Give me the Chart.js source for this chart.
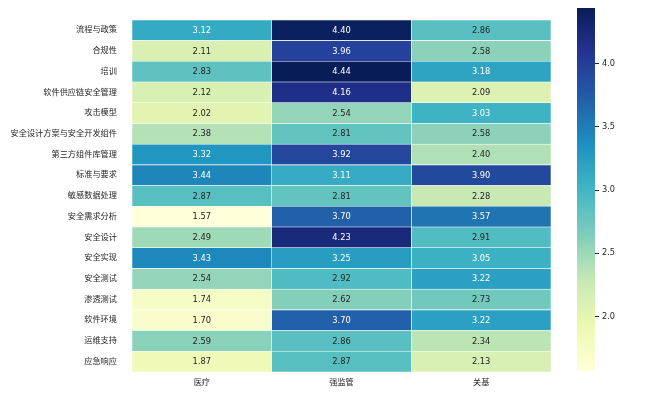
<!DOCTYPE html>
<html>
<head>
<meta charset="utf-8">
<script src="https://cdn.jsdelivr.net/npm/chart.js@4/dist/chart.umd.min.js"></script>
<style>
  html, body { margin: 0; padding: 0; background: #fff; }
  #wrap { position: relative; width: 654px; height: 395px; }
  #main { position: absolute; left: 0; top: 0; width: 560px; height: 395px; }
  #cbar { position: absolute; left: 560px; top: 0; width: 94px; height: 395px; }
</style>
</head>
<body>
<div id="wrap">
  <div id="main"><canvas id="c1"></canvas></div>
  <div id="cbar"><canvas id="c2"></canvas></div>
</div>
<script>
// ---- data ----
const rowLabels = ['流程与政策','合规性','培训','软件供应链安全管理','攻击模型','安全设计方案与安全开发组件','第三方组件库管理','标准与要求','敏感数据处理','安全需求分析','安全设计','安全实现','安全测试','渗透测试','软件环境','运维支持','应急响应'];
const colLabels = ['医疗','强监管','关基'];
const medical   = [3.12,2.11,2.83,2.12,2.02,2.38,3.32,3.44,2.87,1.57,2.49,3.43,2.54,1.74,1.70,2.59,1.87];
const strictReg = [4.40,3.96,4.44,4.16,2.54,2.81,3.92,3.11,2.81,3.70,4.23,3.25,2.92,2.62,3.70,2.86,2.87];
const critInfra = [2.86,2.58,3.18,2.09,3.03,2.58,2.40,3.90,2.28,3.57,2.91,3.05,3.22,2.73,3.22,2.34,2.13];
const colorbarTicks = [2.0, 2.5, 3.0, 3.5, 4.0];

const series = [medical, strictReg, critInfra];
const allVals = series.flat();
const vmin = Math.min(...allVals);
const vmax = Math.max(...allVals);

// YlGnBu colormap
const ylgnbu = ['#ffffd9','#edf8b1','#c7e9b4','#7fcdbb','#41b6c4','#1d91c0','#225ea8','#253494','#081d58']
  .map(h => [parseInt(h.slice(1,3),16), parseInt(h.slice(3,5),16), parseInt(h.slice(5,7),16)]);
function cmapRGB(t) {
  t = Math.max(0, Math.min(1, t));
  const s = t * (ylgnbu.length - 1);
  const i = Math.min(Math.floor(s), ylgnbu.length - 2);
  const f = s - i;
  const a = ylgnbu[i], b = ylgnbu[i + 1];
  return [0,1,2].map(k => Math.round(a[k] + (b[k] - a[k]) * f));
}
function colorFor(v) {
  const c = cmapRGB((v - vmin) / (vmax - vmin));
  return `rgb(${c[0]},${c[1]},${c[2]})`;
}
function textColorFor(v) {
  const c = cmapRGB((v - vmin) / (vmax - vmin)).map(x => {
    x /= 255;
    return x <= 0.03928 ? x / 12.92 : Math.pow((x + 0.055) / 1.055, 2.4);
  });
  const lum = 0.2126 * c[0] + 0.7152 * c[1] + 0.0722 * c[2];
  return lum > 0.408 ? '#262626' : '#ffffff';
}

const FONT = "'DejaVu Sans', 'Noto Sans CJK SC', sans-serif";

const annotate = {
  id: 'annotate',
  afterDatasetsDraw(chart) {
    const ctx = chart.ctx;
    ctx.save();
    ctx.font = `8.3px ${FONT}`;
    ctx.textAlign = 'center';
    ctx.textBaseline = 'middle';
    chart.data.datasets.forEach((ds, i) => {
      const meta = chart.getDatasetMeta(i);
      meta.data.forEach((el, k) => {
        const p = el.getCenterPoint();
        const v = series[i][k];
        ctx.fillStyle = textColorFor(v);
        ctx.fillText(v.toFixed(2), p.x, p.y + 0.5);
      });
    });
    ctx.restore();
  }
};

new Chart(document.getElementById('c1'), {
  type: 'bar',
  data: {
    labels: rowLabels,
    datasets: series.map((vals, j) => ({
      label: colLabels[j],
      data: rowLabels.map(() => [j, j + 1]),
      backgroundColor: vals.map(colorFor),
      borderColor: '#ffffff',
      borderWidth: 0.6,
      borderSkipped: false,
      grouped: false,
      barPercentage: 1,
      categoryPercentage: 1
    }))
  },
  options: {
    indexAxis: 'y',
    responsive: true,
    maintainAspectRatio: false,
    animation: false,
    layout: { padding: { top: 8, right: 9, left: 0, bottom: 0 } },
    plugins: { legend: { display: false }, tooltip: { enabled: false } },
    scales: {
      y: {
        type: 'category',
        grid: { display: false, drawTicks: false },
        border: { display: false },
        ticks: { padding: 15, color: '#262626', font: { family: FONT, size: 8.2 }, autoSkip: false },
        afterFit(scale) { scale.width = 132; }
      },
      x: {
        type: 'linear',
        min: 0, max: 3,
        grid: { display: false, drawTicks: false },
        border: { display: false },
        afterBuildTicks(scale) { scale.ticks = colLabels.map((_, i) => ({ value: i + 0.5 })); },
        ticks: {
          padding: 6, color: '#262626', font: { family: FONT, size: 8.2 },
          autoSkip: false, maxRotation: 0,
          callback: (v) => colLabels[Math.floor(v)]
        },
        afterFit(scale) { scale.height = 23; }
      }
    }
  },
  plugins: [annotate]
});

new Chart(document.getElementById('c2'), {
  type: 'bar',
  data: {
    labels: [''],
    datasets: [{
      data: [[vmin, vmax]],
      borderWidth: 0,
      barPercentage: 1,
      categoryPercentage: 1,
      backgroundColor(ctx) {
        const chart = ctx.chart;
        if (!chart.chartArea) return '#ccc';
        const y = chart.scales.y;
        const y0 = y.getPixelForValue(vmin), y1 = y.getPixelForValue(vmax);
        const g = chart.ctx.createLinearGradient(0, y0, 0, y1);
        for (let i = 0; i <= 32; i++) {
          const c = cmapRGB(i / 32);
          g.addColorStop(i / 32, `rgb(${c[0]},${c[1]},${c[2]})`);
        }
        return g;
      }
    }]
  },
  options: {
    responsive: true,
    maintainAspectRatio: false,
    animation: false,
    layout: { padding: { top: 7, left: 17, right: 0, bottom: 24 } },
    plugins: { legend: { display: false }, tooltip: { enabled: false } },
    scales: {
      x: { display: false },
      y: {
        position: 'right',
        min: vmin, max: vmax,
        grid: { drawOnChartArea: false, drawTicks: true, tickLength: 4, tickColor: '#262626' },
        border: { display: false },
        afterBuildTicks(scale) { scale.ticks = colorbarTicks.map(v => ({ value: v })); },
        ticks: { padding: 3, color: '#262626', font: { family: FONT, size: 8.2 }, callback: v => Number(v).toFixed(1) },
        afterFit(scale) { scale.width = 59; }
      }
    }
  }
});
</script>
</body>
</html>
